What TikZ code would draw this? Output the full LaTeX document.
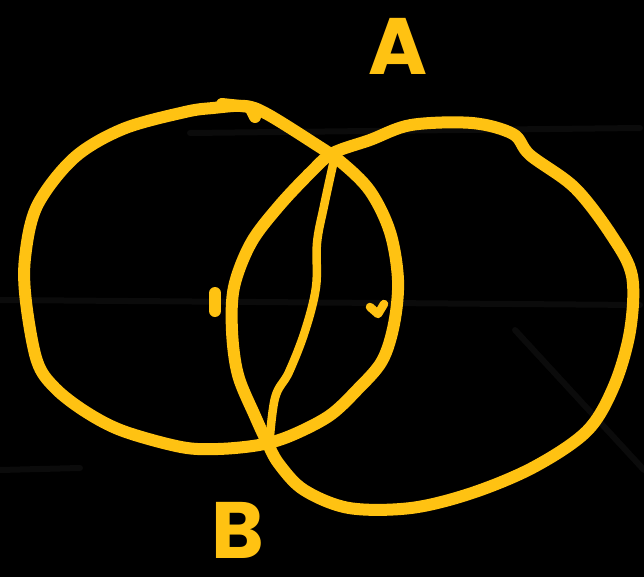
\documentclass[tikz,border=0pt]{standalone}
\usepackage{fontspec}
\setmainfont{Poppins}
\definecolor{pen}{RGB}{255,194,18}
\definecolor{glare}{RGB}{11,11,11}
\tikzset{
  ink/.style={draw=pen, line width=12pt, line cap=round, line join=round},
  thin ink/.style={draw=pen, line width=8.5pt, line cap=round, line join=round},
  letter/.style={text=pen, font=\fontsize{80}{80}\selectfont\bfseries, inner sep=0pt, text depth=0pt},
  glarebar/.style={draw=glare, line width=6pt, line cap=round}
}
\begin{document}
\begin{tikzpicture}[x=1pt,y=-1pt]
\fill[black] (0,0) rectangle (644,577);
\useasboundingbox (0,0) rectangle (644,577);
% faint screen glare
\draw[glarebar] (190,133) -- (640,128);
\draw[glarebar] (0,300) -- (640,305);
\draw[glarebar] (515,330) -- (644,470);
\draw[glarebar] (0,470) -- (80,468);
% intersection points
\coordinate (A) at (334,160);
\coordinate (B) at (269,448);
% left circle
\draw[ink] plot[smooth cycle, tension=0.55] coordinates {
 (213,108) (185,112) (123,129) (74,158) (37,206) (25,258) (26,302) (37,361)
 (55,388) (86,412) (123,431) (181,447) (218,449) (259,445) (290,436) (329,416)
 (357,390) (382,361) (394,324) (398,280) (390,232) (370,191) (341,162) (312,142)
 (267,114) (245,106)};
% bump on top of left circle
\draw[ink] (222,104) -- (250,107) -- (255,117);
% right circle
\draw[ink] plot[smooth cycle, tension=0.55] coordinates {
 (333,153) (370,140) (411,125) (472,123) (513,134) (530,155) (575,188) (612,236)
 (632,276) (630,331) (614,386) (587,431) (534,467) (472,493) (411,508) (349,508)
 (304,490) (279,464) (267,442) (255,416) (238,375) (232,331) (234,287) (251,243)
 (279,206) (312,171)};
% chord A-B
\draw[thin ink] plot[smooth, tension=0.6] coordinates {
 (A) (324,206) (317,243) (316,287) (305,331) (289,372) (275,398) (B)};
% small marks
\draw[ink] (215,293) -- (215,311);
\draw[thin ink] (370,307) -- (378,314) -- (384,304);
% labels
\node[letter, anchor=base] (labA) at (398,75) {A};
\node[letter, anchor=base] (labB) at (238,558) {B};
\end{tikzpicture}
\end{document}
